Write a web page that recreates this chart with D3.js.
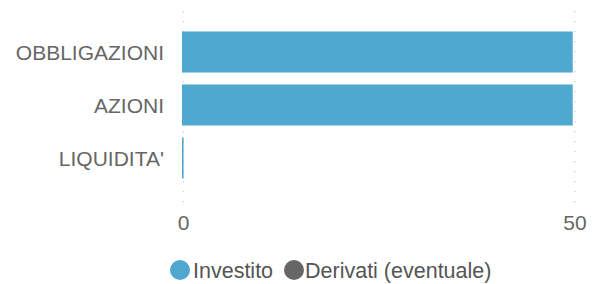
<!DOCTYPE html>
<html>
<head>
<meta charset="utf-8">
<script src="https://cdn.jsdelivr.net/npm/d3@7"></script>
<style>
  body { margin: 0; background: #fff; }
  svg text { font-family: "Liberation Sans", Arial, sans-serif; fill: #666; }
</style>
</head>
<body>
<div id="chart"></div>
<script>
// data
const categories = ['OBBLIGAZIONI', 'AZIONI', "LIQUIDITA'"];
const investito = [49.9, 49.9, 0.2];
const derivati = [0, 0, 0];
const seriesNames = ['Investito', 'Derivati (eventuale)'];
const seriesColors = ['#4ea8cf', '#666666'];
const xTicks = [0, 50];

const width = 603, height = 284;
const svg = d3.select('#chart').append('svg')
  .attr('width', width)
  .attr('height', height);

const x = d3.scaleLinear().domain([0, 50]).range([183.5, 575]);
const y = d3.scaleBand().domain(categories).range([25.5, 184.5]).paddingInner(0.226).paddingOuter(0.113);

// dotted grid
svg.selectAll('line.grid')
  .data(xTicks)
  .enter().append('line')
  .attr('class', 'grid')
  .attr('x1', d => x(d)).attr('x2', d => x(d))
  .attr('y1', 11).attr('y2', 204)
  .attr('stroke', '#ccc')
  .attr('stroke-width', 1.3)
  .attr('stroke-dasharray', '1.3,8.7');

// bars (Investito)
svg.selectAll('rect.inv')
  .data(categories)
  .enter().append('rect')
  .attr('class', 'inv')
  .attr('x', x(0) - 1.5)
  .attr('y', d => y(d))
  .attr('width', (d, i) => Math.max(1, x(investito[i]) - x(0)))
  .attr('height', y.bandwidth())
  .attr('fill', seriesColors[0]);

// derivati bars (zero)
svg.selectAll('rect.der')
  .data(categories)
  .enter().append('rect')
  .attr('class', 'der')
  .attr('x', x(0))
  .attr('y', d => y(d))
  .attr('width', (d, i) => x(derivati[i]) - x(0))
  .attr('height', y.bandwidth())
  .attr('fill', seriesColors[1]);

// category labels
svg.selectAll('text.cat')
  .data(categories)
  .enter().append('text')
  .attr('class', 'cat')
  .attr('x', 164)
  .attr('y', d => y(d) + y.bandwidth() / 2)
  .attr('dy', '0.36em')
  .attr('text-anchor', 'end')
  .style('font-size', '21px')
  .text(d => d);

// x tick labels
svg.selectAll('text.tick')
  .data(xTicks)
  .enter().append('text')
  .attr('class', 'tick')
  .attr('x', d => x(d))
  .attr('y', 230)
  .attr('text-anchor', 'middle')
  .style('font-size', '21px')
  .text(d => d);

// legend
const legend = svg.append('g').attr('transform', 'translate(180,270)');
const legendX = [0, 114];
const legendTextX = [13, 11];
seriesNames.forEach((name, i) => {
  const g = legend.append('g').attr('transform', `translate(${legendX[i]},0)`);
  g.append('circle').attr('r', 10).attr('fill', seriesColors[i]);
  g.append('text').attr('x', legendTextX[i]).attr('dy', '0.36em')
    .style('font-size', '21.5px').style('fill', '#555').text(name);
});
</script>
</body>
</html>
